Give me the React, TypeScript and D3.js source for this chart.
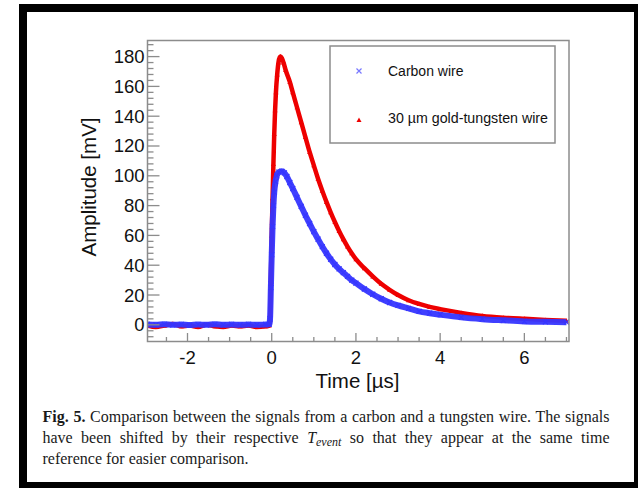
import React, { useLayoutEffect, useRef } from 'react';
import * as d3 from 'd3';

// 30 um gold-tungsten wire (red triangles)
const tungstenTime = [-2.95, -2.75, -2.55, -2.35, -2.15, -1.95, -1.75, -1.55, -1.35, -1.15, -0.95, -0.75, -0.55, -0.35, -0.15, -0.06,
    -0.04, -0.02, 0.0, 0.02, 0.04, 0.06, 0.08, 0.10, 0.13, 0.16, 0.19, 0.21, 0.24, 0.28, 0.33, 0.43,
    0.5, 0.6, 0.7, 0.8, 0.9, 1.0, 1.1, 1.2, 1.3, 1.4, 1.5, 1.6, 1.7, 1.8, 1.9, 2.0, 2.2, 2.4, 2.6, 2.8,
    3.0, 3.25, 3.5, 3.75, 4.0, 4.5, 5.0, 5.5, 6.0, 6.5, 7.0];
const tungstenAmp = [-0.5, -1.5, -0.5, 0.5, -1, -0.5, -1.5, 0, -1, -1.5, -0.5, -1, -0.5, -1.5, -1, -0.5,
    3, 30, 60, 85, 108, 128, 144, 156, 168, 176, 179.5, 180, 179, 176, 171, 163,
    156, 146, 136, 126, 116, 107, 98, 90, 82.5, 75.5, 69, 63, 57.5, 52.5, 48, 44, 38, 32.5, 27.5, 23.5,
    20, 16.5, 14, 12, 10.5, 8, 6, 4.8, 4, 3.3, 2.8];

// carbon wire (blue crosses)
const carbonTime = [-2.95, -2.75, -2.55, -2.35, -2.15, -1.95, -1.75, -1.55, -1.35, -1.15, -0.95, -0.75, -0.55, -0.35, -0.15, -0.06,
    -0.04, -0.02, 0.0, 0.02, 0.04, 0.06, 0.09, 0.12, 0.17, 0.24, 0.3, 0.36, 0.43,
    0.5, 0.6, 0.7, 0.8, 0.9, 1.0, 1.1, 1.2, 1.3, 1.4, 1.5, 1.6, 1.7, 1.8, 1.9, 2.0, 2.2, 2.4, 2.6, 2.8,
    3.0, 3.25, 3.5, 3.75, 4.0, 4.5, 5.0, 5.5, 6.0, 6.5, 7.0];
const carbonAmp = [0.2, 0, 0.3, 0, 0.2, -0.2, 0.2, 0, 0.3, 0, 0.2, 0, 0.2, 0, 0.2, 0.3,
    4, 25, 47, 66, 80, 89, 96, 100, 102.5, 103, 102, 99.5, 95.5,
    91.5, 85.5, 79.5, 73.5, 68, 62.5, 57.5, 52.5, 48, 44, 40.5, 37.5, 35, 32.5, 30, 28, 24, 20.5, 17.5, 15,
    13, 11, 9, 7.8, 6.8, 5, 3.8, 3, 2.3, 2, 1.8];

const legendLabels = ['Carbon wire', '30 \u00b5m gold-tungsten wire'];
const axisXLabel = 'Time [\u00b5s]';
const axisYLabel = 'Amplitude [mV]';

const RED = '#ee0000';
const BLUE = '#3535ff';
const GREY = '#8c8c8c';
const SANS = 'Liberation Sans, Arial, sans-serif';
const SERIF = 'Liberation Serif, Times New Roman, serif';

function Cross({x, y, size, color}) {
    const s = size / 2;
    return <path d={`M${x - s},${y - s}L${x + s},${y + s}M${x - s},${y + s}L${x + s},${y - s}`} stroke={color} strokeWidth={1.2} fill='none'/>;
}

function Triangle({x, y, size, color}) {
    const s = size / 2;
    return <path d={`M${x},${y - s}L${x + s},${y + s * 0.8}L${x - s},${y + s * 0.8}Z`} fill={color}/>;
}

function Legend({x, y, width, height}) {
    return (
        <g transform={`translate(${x}, ${y})`}>
            <rect x={0} y={0} width={width} height={height} fill='white' stroke={GREY} strokeWidth={1.5}/>
            <Cross x={29} y={25} size={5} color='#7777ff'/>
            <text x={58} y={30} fontFamily={SANS} fontSize={14} fill='#111'>{legendLabels[0]}</text>
            <Triangle x={29} y={74} size={5} color={RED}/>
            <text x={58} y={77} fontFamily={SANS} fontSize={14} fill='#111' textLength={160} lengthAdjust='spacingAndGlyphs'>{legendLabels[1]}</text>
        </g>
    );
}

// justified lines: stretch the word spacing so each line fills the width
function Caption({x, y, width}) {
    const line1 = useRef(null);
    const line2 = useRef(null);

    useLayoutEffect(() => {
        [line1.current, line2.current].forEach((el) => {
            if (!el) return;
            el.setAttribute('word-spacing', '0');
            const natural = el.getComputedTextLength();
            const spaces = (el.textContent.match(/ /g) || []).length;
            el.setAttribute('word-spacing', String((width - natural) / spaces));
        });
    }, [width]);

    return (
        <g fontFamily={SERIF} fontSize={16} fill='#1a1a1a'>
            <text ref={line1} x={x} y={y}>
                <tspan fontWeight='bold'>Fig. 5.</tspan> Comparison between the signals from a carbon and a tungsten wire. The signals
            </text>
            <text ref={line2} x={x} y={y + 21}>
                have been shifted by their respective <tspan fontStyle='italic'>T</tspan><tspan fontStyle='italic' fontSize={12} dy={3}>event</tspan><tspan dy={-3}> so that they appear at the same time</tspan>
            </text>
            <text x={x} y={y + 42}>reference for easier comparison.</text>
        </g>
    );
}

export default function App() {
    const left = 147.5, right = 569, top = 40.5, bottom = 341.5;

    const xScale = d3.scaleLinear().domain([-2.95, 7.06]).range([left, right]);
    const yScale = d3.scaleLinear().domain([-11.2, 190.8]).range([bottom, top]);

    const ticksX = xScale.ticks(5);
    const minorX = d3.range(-2.5, 7.01, 0.5).filter((v) => !ticksX.some((t) => Math.abs(t - v) < 1e-6));
    const ticksY = yScale.ticks(10).filter((v) => v >= 0);
    const minorY = d3.range(-8, 190, 4).filter((v) => v % 20 !== 0);

    const tungsten = tungstenTime.map((t, i) => [t, tungstenAmp[i]]);
    const carbon = carbonTime.map((t, i) => [t, carbonAmp[i]]);

    const line = d3.line()
        .x((d) => xScale(d[0]))
        .y((d) => yScale(d[1]))
        .curve(d3.curveMonotoneX);

    return (
        <svg width={638} height={488} xmlns="http://www.w3.org/2000/svg" style={{position: 'absolute', left: 0, top: 0}}>
            <rect x={0} y={0} width={638} height={488} fill='white'/>
            <rect x={23} y={8} width={615} height={478} fill='none' stroke='black' strokeWidth={8}/>

            <defs>
                <clipPath id='plotClip'>
                    <rect x={left} y={top} width={right - left} height={bottom - top}/>
                </clipPath>
            </defs>

            <g clipPath='url(#plotClip)'>
                <path d={line(tungsten)} fill='none' stroke={RED} strokeWidth={4.5} strokeLinejoin='round'/>
                {tungsten.map((d, i) =>
                    <Triangle key={`T_${i}`} x={xScale(d[0])} y={yScale(d[1])} size={5} color={RED}/>
                )}
                <path d={line(carbon)} fill='none' stroke={BLUE} strokeWidth={6} strokeLinejoin='round' strokeOpacity={0.95}/>
                {carbon.map((d, i) =>
                    <Cross key={`C_${i}`} x={xScale(d[0])} y={yScale(d[1])} size={5} color={BLUE}/>
                )}
            </g>

            <rect x={left} y={top} width={right - left} height={bottom - top} fill='none' stroke={GREY} strokeWidth={1.5}/>

            {ticksY.map((v, i) =>
                <g key={`TickY_${i}`}>
                    <line x1={left} x2={left + 12} y1={yScale(v)} y2={yScale(v)} stroke={GREY} strokeWidth={1.3}/>
                    <text x={144.5} y={yScale(v) + 6.5} textAnchor='end' fontFamily={SANS} fontSize={18.5} fill='#111'>{v}</text>
                </g>
            )}
            {minorY.map((v, i) =>
                <line key={`MinorY_${i}`} x1={left} x2={left + 6} y1={yScale(v)} y2={yScale(v)} stroke={GREY} strokeWidth={1.3}/>
            )}
            {ticksX.map((v, i) =>
                <g key={`TickX_${i}`}>
                    <line x1={xScale(v)} x2={xScale(v)} y1={bottom} y2={bottom - 8.5} stroke={GREY} strokeWidth={1.3}/>
                    <text x={xScale(v)} y={363.5} textAnchor='middle' fontFamily={SANS} fontSize={18.5} fill='#111'>{v}</text>
                </g>
            )}
            {minorX.map((v, i) =>
                <line key={`MinorX_${i}`} x1={xScale(v)} x2={xScale(v)} y1={bottom} y2={bottom - 4.5} stroke={GREY} strokeWidth={1.3}/>
            )}

            <text x={357.5} y={388} textAnchor='middle' fontFamily={SANS} fontSize={20.5} fill='#111'>{axisXLabel}</text>
            <text transform='translate(96, 187) rotate(-90)' textAnchor='middle' fontFamily={SANS} fontSize={20.5} fill='#111'>{axisYLabel}</text>

            <Legend x={330} y={46} width={225} height={97}/>

            <Caption x={42.5} y={422} width={567}/>
        </svg>
    );
}
